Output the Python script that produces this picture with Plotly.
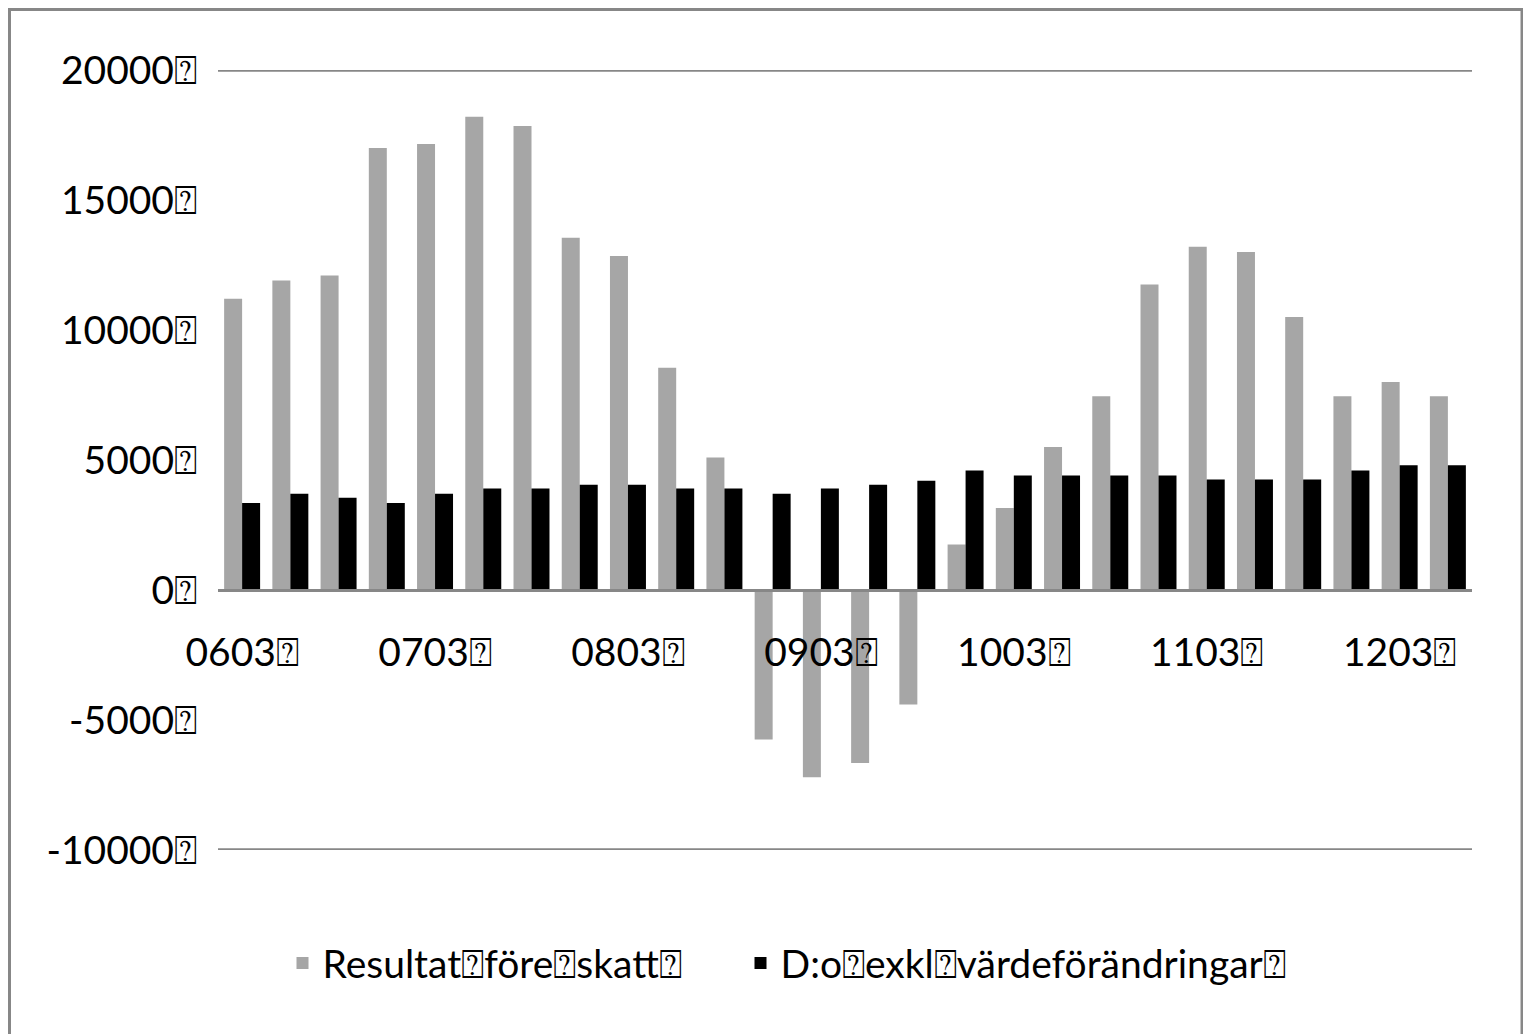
import plotly.graph_objects as go

BOX = "\u2370"

quarters = ["0603", "0606", "0609", "0612",
            "0703", "0706", "0709", "0712",
            "0803", "0806", "0809", "0812",
            "0903", "0906", "0909", "0912",
            "1003", "1006", "1009", "1012",
            "1103", "1106", "1109", "1112",
            "1203", "1206"]

resultat_fore_skatt = [11200, 11900, 12100, 17000,
                       17150, 18200, 17850, 13550,
                       12850, 8550, 5100, -5750,
                       -7200, -6650, -4400, 1750,
                       3150, 5500, 7450, 11750,
                       13200, 13000, 10500, 7450,
                       8000, 7450]

exkl_vardeforandringar = [3350, 3700, 3550, 3350,
                          3700, 3900, 3900, 4050,
                          4050, 3900, 3900, 3700,
                          3900, 4050, 4200, 4600,
                          4400, 4400, 4400, 4400,
                          4250, 4250, 4250, 4600,
                          4800, 4800]

series_names = ["Resultat" + BOX + "före" + BOX + "skatt" + BOX,
                "D:o" + BOX + "exkl" + BOX + "värdeförändringar" + BOX]

x_tick_labels = ["0603", "0703", "0803", "0903", "1003", "1103", "1203"]
y_tick_values = [-10000, -5000, 0, 5000, 10000, 15000, 20000]

FONT = "Lato, 'Open Sans', sans-serif"

W, H = 1523, 1026
ML, MR, MT, MB = 210, 59, 62, 184
PW, PH = W - ML - MR, H - MT - MB

fig = go.Figure()
fig.add_trace(go.Bar(x=quarters, y=resultat_fore_skatt, name=series_names[0],
                     marker=dict(color="#a6a6a6", line=dict(width=0)), legend="legend"))
fig.add_trace(go.Bar(x=quarters, y=exkl_vardeforandringar, name=series_names[1],
                     marker=dict(color="#000000", line=dict(width=0)), legend="legend2"))

ymin, ymax = -10000, 20000
zero_pos = (0 - ymin) / (ymax - ymin)

legend_common = dict(orientation="h", y=-0.145, xanchor="left", yanchor="middle",
                     font=dict(family=FONT, size=39, color="black"),
                     itemwidth=30, bgcolor="rgba(0,0,0,0)")

fig.update_layout(
    width=W, height=H,
    margin=dict(l=ML, r=MR, t=MT, b=MB),
    paper_bgcolor="white", plot_bgcolor="white",
    barmode="group", bargap=0.254, bargroupgap=0,
    font=dict(family=FONT, size=39, color="black"),
    showlegend=True,
    legend=dict(x=(274.5 - ML) / PW, **legend_common),
    legend2=dict(x=(732.5 - ML) / PW, **legend_common),
    xaxis=dict(type="category", categoryorder="array", categoryarray=quarters,
               tickmode="array", tickvals=x_tick_labels,
               ticktext=[t + BOX for t in x_tick_labels],
               anchor="free", position=zero_pos,
               showline=True, linecolor="#878787", linewidth=3,
               showgrid=False, zeroline=False, ticks="",
               ticklabelstandoff=27,
               tickfont=dict(family=FONT, size=39, color="black")),
    yaxis=dict(range=[ymin, ymax], domain=[0, 1],
               tickmode="array", tickvals=y_tick_values,
               ticktext=[f"{v}{BOX}" for v in y_tick_values],
               showgrid=False, zeroline=False, showline=False, ticks="",
               ticklabelstandoff=20,
               tickfont=dict(family=FONT, size=39, color="black")),
)

# horizontal reference lines at top and bottom of value range
for yv in (ymax, ymin):
    fig.add_shape(type="line", xref="x domain", yref="y", x0=0, x1=1, y0=yv, y1=yv,
                  line=dict(color="#878787", width=3.5), layer="below")

# outer chart border
fig.add_shape(type="rect", xref="paper", yref="paper",
              x0=(1.5 - ML) / PW, x1=(1514 - ML) / PW,
              y0=(PH + MT - 1040) / PH, y1=1 + (MT - 1.5) / PH,
              line=dict(color="#878787", width=3), fillcolor="rgba(0,0,0,0)", layer="below")

fig.write_html("out.html")
